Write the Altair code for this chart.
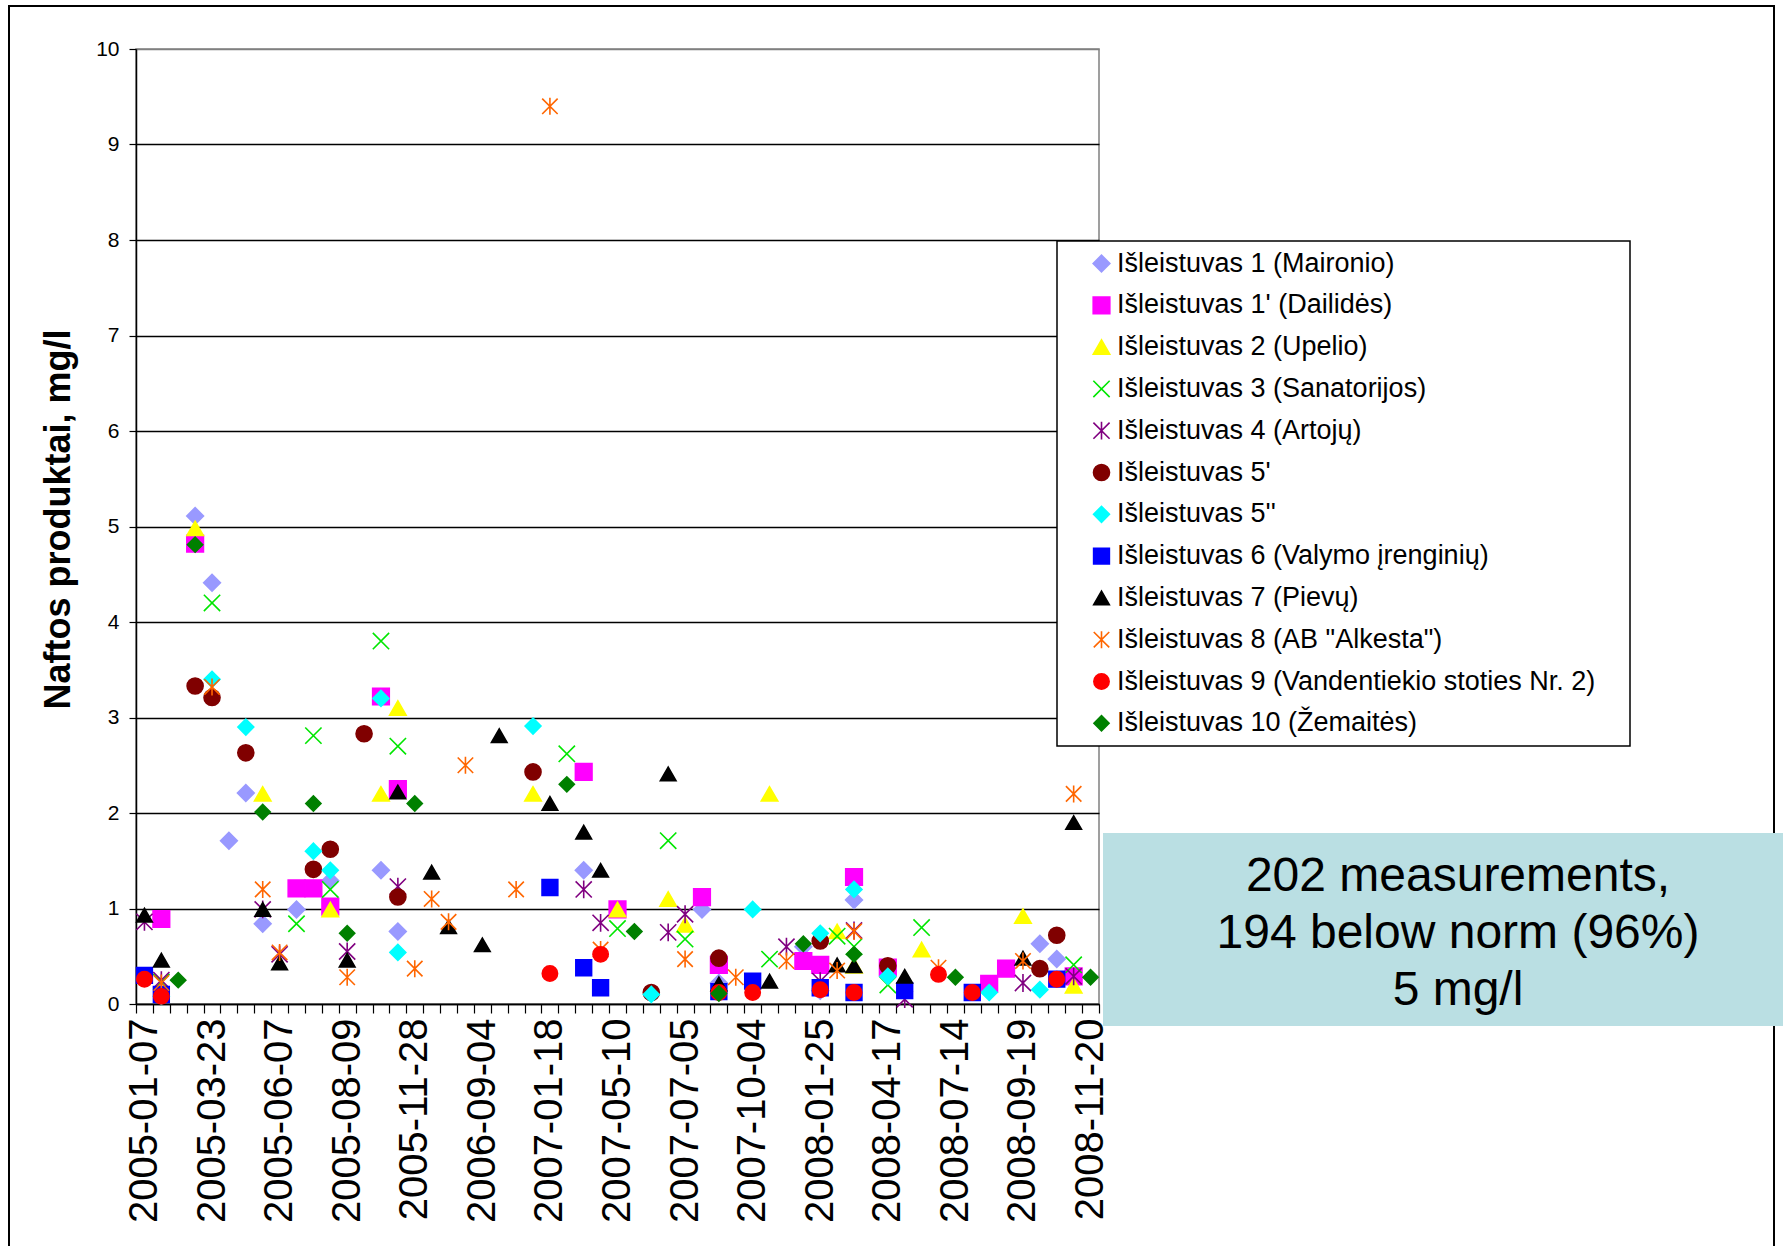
import json
import altair as alt
import pandas as pd

# ---------------- data ----------------
TICK_LABELS = ["2005-01-07", "2005-03-23", "2005-06-07", "2005-08-09", "2005-11-28",
               "2006-09-04", "2007-01-18", "2007-05-10", "2007-07-05", "2007-10-04",
               "2008-01-25", "2008-04-17", "2008-07-14", "2008-09-19", "2008-11-20"]
N_CAT = 57          # sampling dates on the category axis, every 4th one labelled
LABEL_EVERY = 4

SERIES = ["Išleistuvas 1 (Maironio)", "Išleistuvas 1' (Dailidės)", "Išleistuvas 2 (Upelio)",
          "Išleistuvas 3 (Sanatorijos)", "Išleistuvas 4 (Artojų)", "Išleistuvas 5'",
          "Išleistuvas 5''", "Išleistuvas 6 (Valymo įrenginių)", "Išleistuvas 7 (Pievų)",
          "Išleistuvas 8 (AB \"Alkesta\")", "Išleistuvas 9 (Vandentiekio stoties Nr. 2)",
          "Išleistuvas 10 (Žemaitės)"]

S1_IDX = [3, 4, 5, 6, 7, 9, 11, 14, 15, 26, 33, 34, 39, 40, 42, 53, 54]
S1_VAL = [5.11, 4.41, 1.71, 2.21, 0.84, 0.99, 1.29, 1.40, 0.76, 1.40, 0.99, 0.22, 0.60, 0.14, 1.09, 0.63, 0.47]
S1B_IDX = [1, 3, 9, 10, 11, 14, 15, 26, 28, 33, 34, 39, 40, 42, 44, 50, 51, 55]
S1B_VAL = [0.89, 4.82, 1.21, 1.21, 1.02, 3.22, 2.25, 2.43, 0.99, 1.12, 0.41, 0.45, 0.41, 1.33, 0.38, 0.21, 0.37, 0.29]
S2_IDX = [3, 7, 11, 14, 15, 23, 28, 31, 32, 37, 41, 42, 46, 52, 55]
S2_VAL = [4.98, 2.20, 0.99, 2.20, 3.10, 2.20, 0.99, 1.10, 0.83, 2.20, 0.76, 0.40, 0.57, 0.92, 0.19]
S3_IDX = [1, 4, 9, 10, 11, 14, 15, 25, 28, 31, 32, 37, 41, 42, 44, 46, 55]
S3_VAL = [0.23, 4.20, 0.84, 2.81, 1.20, 3.80, 2.70, 2.62, 0.79, 1.71, 0.68, 0.47, 0.71, 0.60, 0.20, 0.80, 0.41]
S4_IDX = [0, 1, 7, 8, 12, 15, 26, 27, 31, 32, 38, 40, 42, 45, 52, 55]
S4_VAL = [0.86, 0.25, 0.99, 0.52, 0.55, 1.23, 1.20, 0.85, 0.75, 0.94, 0.60, 0.24, 0.77, 0.05, 0.22, 0.29]
S5A_IDX = [3, 4, 6, 10, 11, 13, 15, 23, 30, 34, 40, 44, 53, 54]
S5A_VAL = [3.33, 3.21, 2.63, 1.41, 1.62, 2.83, 1.12, 2.43, 0.12, 0.48, 0.66, 0.40, 0.37, 0.72]
S5B_IDX = [1, 4, 6, 10, 11, 14, 15, 23, 30, 36, 40, 42, 44, 50, 53]
S5B_VAL = [0.08, 3.40, 2.90, 1.60, 1.40, 3.20, 0.54, 2.91, 0.10, 0.99, 0.74, 1.20, 0.29, 0.12, 0.15]
S6_IDX = [0, 1, 24, 26, 27, 34, 36, 40, 42, 45, 49, 54]
S6_VAL = [0.30, 0.10, 1.22, 0.38, 0.17, 0.13, 0.24, 0.17, 0.12, 0.14, 0.12, 0.26]
S7_IDX = [0, 1, 7, 8, 12, 15, 17, 18, 20, 21, 24, 26, 27, 31, 34, 37, 41, 42, 45, 52, 55]
S7_VAL = [0.93, 0.46, 0.99, 0.43, 0.46, 2.22, 1.38, 0.81, 0.62, 2.81, 2.10, 1.80, 1.40, 2.41, 0.21, 0.24, 0.41, 0.40, 0.29, 0.48, 1.90]
S8_IDX = [1, 4, 7, 8, 12, 16, 17, 18, 19, 22, 24, 27, 32, 35, 38, 41, 42, 47, 52, 55]
S8_VAL = [0.22, 3.32, 1.20, 0.54, 0.28, 0.37, 1.10, 0.86, 2.50, 1.20, 9.40, 0.57, 0.47, 0.28, 0.45, 0.35, 0.76, 0.38, 0.45, 2.20]
S9_IDX = [0, 1, 24, 27, 34, 36, 40, 42, 47, 49, 54]
S9_VAL = [0.26, 0.08, 0.32, 0.52, 0.12, 0.12, 0.15, 0.12, 0.31, 0.12, 0.26]
S10_IDX = [2, 3, 7, 10, 12, 16, 25, 29, 34, 39, 42, 48, 56]
S10_VAL = [0.25, 4.81, 2.01, 2.10, 0.74, 2.10, 2.30, 0.76, 0.11, 0.63, 0.52, 0.28, 0.28]

TEXT_LINES = ["202 measurements,", "194 below norm (96%)", "5 mg/l"]

# ---------------- styles ----------------
X_PATH = "M-1,-1L1,1M-1,1L1,-1"
STAR_PATH = "M-1,-1L1,1M-1,1L1,-1M0,-1.1L0,1.1"
COLORS = ["#9999FF", "#FF00FF", "#FFFF00", "#00E600", "#800080", "#800000",
          "#00FFFF", "#0000FF", "#000000", "#FF6600", "#FF0000", "#008000"]
SHAPES = ["diamond", "square", "triangle-up", X_PATH, STAR_PATH, "circle",
          "diamond", "square", "triangle-up", STAR_PATH, "circle", "diamond"]
FILLS = [c if s not in (X_PATH, STAR_PATH) else "transparent" for c, s in zip(COLORS, SHAPES)]
SIZES = [280, 230, 370, 230, 230, 270, 280, 230, 370, 230, 270, 280]
FONT = "Liberation Sans"

pairs = [(S1_IDX, S1_VAL), (S1B_IDX, S1B_VAL), (S2_IDX, S2_VAL), (S3_IDX, S3_VAL),
         (S4_IDX, S4_VAL), (S5A_IDX, S5A_VAL), (S5B_IDX, S5B_VAL), (S6_IDX, S6_VAL),
         (S7_IDX, S7_VAL), (S8_IDX, S8_VAL), (S9_IDX, S9_VAL), (S10_IDX, S10_VAL)]
rows = []
for name, (ix, vals) in zip(SERIES, pairs):
    for i, v in zip(ix, vals):
        rows.append({"idx": i, "val": v, "series": name})
df = pd.DataFrame(rows)

W, H = 963, 955
band = W / N_CAT

x_scale = alt.Scale(domain=[-0.5, N_CAT - 0.5], nice=False, zero=False)
y_scale = alt.Scale(domain=[0, 10], nice=False, zero=True)

label_expr = ("((datum.value + 0.5) % " + str(LABEL_EVERY) + " == 0) ? "
              + json.dumps(TICK_LABELS) + "[(datum.value + 0.5) / " + str(LABEL_EVERY) + "] : ''")

x_axis = alt.Axis(values=[i - 0.5 for i in range(N_CAT + 1)], labelExpr=label_expr,
                  labelAngle=270, labelAlign="right", labelBaseline="middle",
                  labelFontSize=40, labelFont=FONT, labelColor="black", labelLimit=500,
                  labelOffset=band / 2, labelPadding=5, labelOverlap=False, labelFlush=False,
                  tickSize=9, tickColor="black", tickWidth=1.2,
                  domainColor="black", domainWidth=1.5, grid=False, title=None)

y_axis = alt.Axis(values=list(range(0, 11)), grid=True,
                  gridColor={"condition": {"test": "datum.value === 10", "value": "#808080"}, "value": "black"},
                  gridWidth=1.3, tickSize=7, tickColor="black", tickWidth=1.2,
                  domainColor="black", domainWidth=1.5,
                  labelFontSize=21, labelFont=FONT, labelColor="black", labelPadding=10,
                  title="Naftos produktai, mg/l", titleFont=FONT, titleFontSize=36,
                  titleFontWeight="bold", titleColor="black", titleAngle=270,
                  titleX=-67, titleY=470, titleAlign="center", titleBaseline="alphabetic")

leg = alt.Legend(orient="none", legendX=952, legendY=201, title=None,
                 labelFontSize=27, labelFont=FONT, labelColor="black", labelLimit=1000,
                 rowPadding=13.8, symbolStrokeWidth=1.6, padding=0, labelOffset=2)

pts = alt.Chart(df).mark_point(strokeWidth=1.6, opacity=1, fillOpacity=1).encode(
    x=alt.X("idx:Q", scale=x_scale, axis=x_axis),
    y=alt.Y("val:Q", scale=y_scale, axis=y_axis),
    fill=alt.Fill("series:N", scale=alt.Scale(domain=SERIES, range=FILLS), legend=leg),
    stroke=alt.Stroke("series:N", scale=alt.Scale(domain=SERIES, range=COLORS), legend=leg),
    shape=alt.Shape("series:N", scale=alt.Scale(domain=SERIES, range=SHAPES), legend=leg),
    size=alt.Size("series:N", scale=alt.Scale(domain=SERIES, range=SIZES), legend=leg),
)

one = pd.DataFrame({"k": [0]})
frame = alt.Chart(one).mark_rect(fillOpacity=0, stroke="black", strokeWidth=2).encode(
    x=alt.value(-127), x2=alt.value(1638), y=alt.value(-43), y2=alt.value(1230))
legend_box = alt.Chart(one).mark_rect(fill="white", stroke="black", strokeWidth=1.5).encode(
    x=alt.value(921), x2=alt.value(1494), y=alt.value(192), y2=alt.value(697))
text_box = alt.Chart(one).mark_rect(fill="#BADFE3", strokeWidth=0).encode(
    x=alt.value(967), x2=alt.value(1647), y=alt.value(784), y2=alt.value(977))
note = alt.Chart(one).mark_text(text=TEXT_LINES, fontSize=48, font=FONT, lineHeight=57,
                                align="center", baseline="middle", color="black").encode(
    x=alt.value(1322), y=alt.value(828))

chart = alt.layer(frame, pts, legend_box, text_box, note).properties(
    width=W, height=H,
    autosize=alt.AutoSizeParams(type="none"),
    padding={"left": 136, "top": 49, "right": 1783 - 136 - W, "bottom": 1246 - 49 - H},
    background="white",
).configure_view(stroke="#808080", strokeWidth=1.5)

chart.save("out.html", embed_options={"renderer": "svg", "actions": False})
